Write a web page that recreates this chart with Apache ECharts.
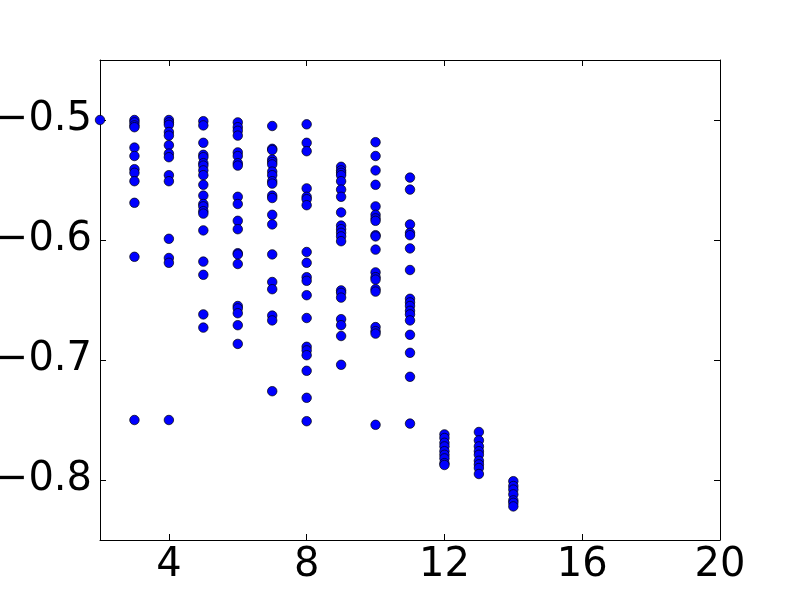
<!DOCTYPE html>
<html>
<head>
<meta charset="utf-8">
<script src="https://cdn.jsdelivr.net/npm/echarts@6/dist/echarts.min.js"></script>
<style>
  html, body { margin: 0; padding: 0; background: #fff; }
  #chart { width: 800px; height: 600px; }
</style>
</head>
<body>
<div id="chart"></div>
<script>
// x positions of the point columns
const xCols = [2, 3, 4, 5, 6, 7, 8, 9, 10, 11, 12, 13, 14];

// y values
const y2 = [-0.500];
const y3 = [-0.500, -0.502, -0.5045, -0.506, -0.523, -0.530, -0.541, -0.544, -0.551, -0.569, -0.614, -0.750];
const y4 = [-0.500, -0.502, -0.504, -0.510, -0.513, -0.521, -0.528, -0.531, -0.546, -0.551, -0.599, -0.615, -0.619, -0.750];
const y5 = [-0.501, -0.5045, -0.519, -0.529, -0.531, -0.536, -0.538, -0.542, -0.546, -0.554, -0.563, -0.570, -0.572,
            -0.576, -0.578, -0.592, -0.618, -0.629, -0.662, -0.673];
const y6 = [-0.502, -0.506, -0.509, -0.513, -0.527, -0.530, -0.536, -0.538, -0.564, -0.570, -0.584, -0.591, -0.611,
            -0.612, -0.620, -0.655, -0.657, -0.661, -0.671, -0.6866];
const y7 = [-0.505, -0.524, -0.525, -0.533, -0.535, -0.537, -0.543, -0.546, -0.551, -0.553, -0.563, -0.565, -0.579,
            -0.587, -0.612, -0.635, -0.641, -0.663, -0.667, -0.726];
const y8 = [-0.5036, -0.519, -0.526, -0.557, -0.564, -0.566, -0.571, -0.610, -0.619, -0.631, -0.634, -0.646, -0.665,
            -0.689, -0.692, -0.696, -0.709, -0.7315, -0.751];
const y9 = [-0.539, -0.542, -0.544, -0.546, -0.551, -0.558, -0.564, -0.577, -0.588, -0.591, -0.594, -0.597, -0.601,
            -0.642, -0.644, -0.648, -0.666, -0.671, -0.680, -0.704];
const y10 = [-0.5185, -0.530, -0.542, -0.554, -0.572, -0.579, -0.582, -0.584, -0.596, -0.597, -0.608, -0.627, -0.631,
             -0.633, -0.641, -0.643, -0.6726, -0.676, -0.678, -0.754];
const y11 = [-0.548, -0.558, -0.587, -0.594, -0.596, -0.607, -0.625, -0.649, -0.652, -0.655, -0.659, -0.662, -0.667,
             -0.679, -0.694, -0.714, -0.753];
const y12 = [-0.762, -0.765, -0.769, -0.772, -0.776, -0.779, -0.782, -0.786, -0.7875];
const y13 = [-0.760, -0.767, -0.772, -0.776, -0.779, -0.784, -0.787, -0.790, -0.795];
const y14 = [-0.801, -0.805, -0.808, -0.812, -0.817, -0.819, -0.822];

const yCols = [y2, y3, y4, y5, y6, y7, y8, y9, y10, y11, y12, y13, y14];

// tick labels
const xTicks = [4, 8, 12, 16, 20];
const yTicks = [-0.8, -0.7, -0.6, -0.5];

let points = [];
for (let i = 0; i < xCols.length; i++) {
  for (let j = 0; j < yCols[i].length; j++) {
    points.push([xCols[i], yCols[i][j]]);
  }
}

let chart = echarts.init(document.getElementById('chart'));

const font = 'DejaVu Sans';
const lineStyle = { color: '#000', width: 1 };

chart.setOption({
  animation: false,
  backgroundColor: '#fff',
  grid: { left: 100, right: 80, top: 60, bottom: 60, containLabel: false, outerBoundsMode: 'none' },
  xAxis: [
    {
      type: 'value', min: 2, max: 20, position: 'bottom',
      axisLine: { show: true, onZero: false, lineStyle: lineStyle },
      axisTick: { show: true, inside: true, length: 6, lineStyle: lineStyle, customValues: xTicks },
      axisLabel: {
        show: true, customValues: xTicks, margin: 6,
        color: '#000', fontSize: 40, fontFamily: font
      },
      splitLine: { show: false }
    },
    {
      type: 'value', min: 2, max: 20, position: 'top',
      axisLine: { show: true, onZero: false, lineStyle: lineStyle },
      axisTick: { show: true, inside: true, length: 6, lineStyle: lineStyle, customValues: xTicks },
      axisLabel: { show: false },
      splitLine: { show: false }
    }
  ],
  yAxis: [
    {
      type: 'value', min: -0.85, max: -0.45, position: 'left',
      axisLine: { show: true, onZero: false, lineStyle: lineStyle },
      axisTick: { show: true, inside: true, length: 6, lineStyle: lineStyle, customValues: yTicks },
      axisLabel: {
        show: true, customValues: yTicks, margin: 8,
        color: '#000', fontSize: 40, fontFamily: font,
        formatter: function (v) {
          return v.toFixed(1).replace('-', '\u2212');
        }
      },
      splitLine: { show: false }
    },
    {
      type: 'value', min: -0.85, max: -0.45, position: 'right',
      axisLine: { show: true, onZero: false, lineStyle: lineStyle },
      axisTick: { show: true, inside: true, length: 6, lineStyle: lineStyle, customValues: yTicks },
      axisLabel: { show: false },
      splitLine: { show: false }
    }
  ],
  series: [
    {
      type: 'scatter',
      xAxisIndex: 0,
      yAxisIndex: 0,
      symbol: 'circle',
      symbolSize: 9.5,
      clip: true,
      itemStyle: { color: '#0000ff', borderColor: '#000', borderWidth: 0.7, opacity: 1 },
      data: points
    }
  ]
});
</script>
</body>
</html>
